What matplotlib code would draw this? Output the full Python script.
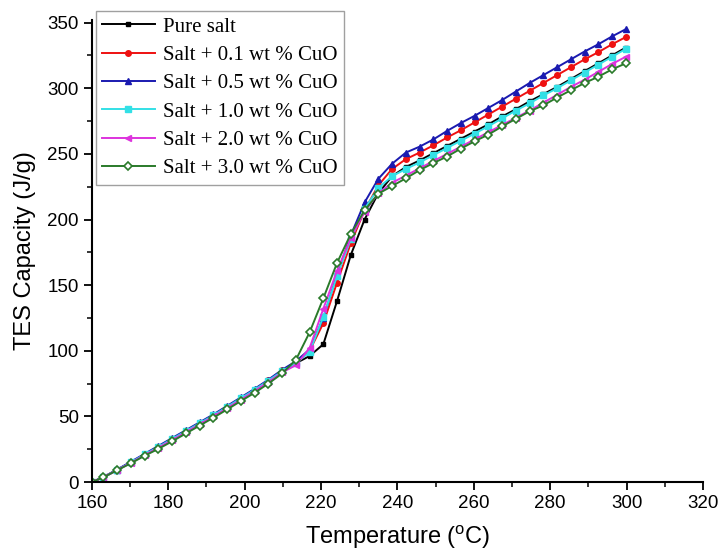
import matplotlib
matplotlib.use("Agg")
import matplotlib.pyplot as plt
from matplotlib.ticker import MultipleLocator

temperature = [160.0, 163.0, 166.6, 170.2, 173.8, 177.4, 181.0, 184.6, 188.2, 191.8,
               195.4, 199.0, 202.6, 206.2, 209.8, 213.4, 217.0, 220.6, 224.2, 227.8,
               231.4, 235.0, 238.6, 242.2, 245.8, 249.4, 253.0, 256.6, 260.2, 263.8,
               267.4, 271.0, 274.6, 278.2, 281.8, 285.4, 289.0, 292.6, 296.2, 299.8]

pure_salt = [0, 3.6, 9.2, 15, 20.8, 26.5, 32.5, 38.5, 44.5, 50.5,
             57, 63.5, 70, 77, 84.5, 90.5, 96, 105, 138, 173,
             200, 220, 233, 240, 245, 250.5, 256, 261.5, 267, 272.5,
             278.5, 284, 290, 295.5, 301, 307, 313, 319, 325, 331]
cuo_01 = [0, 3.7, 9.3, 15, 21, 27, 33, 39, 45, 51,
          57.5, 64, 70.5, 77.5, 85, 91, 100, 121, 152, 182,
          207, 226, 238.5, 246, 251, 256.5, 262.5, 268, 274, 280,
          286, 292, 298, 304, 310, 316, 322, 327.5, 333.5, 339]
cuo_05 = [0, 3.8, 9.5, 15.5, 21.5, 27.5, 33.5, 39.5, 45.5, 51.5,
          58, 64.5, 71, 78, 85.5, 92, 101, 125, 158, 188,
          213, 231, 242.5, 251, 255.5, 261, 267.5, 273.5, 279, 285,
          291, 297.5, 304, 310, 316, 322, 328, 333.5, 339.5, 345]
cuo_10 = [0, 3.6, 9.2, 15, 21, 26.8, 32.8, 38.8, 44.8, 50.8,
          57.3, 63.8, 70.3, 77.3, 84.5, 90.5, 99, 126, 157, 185,
          208, 224, 233, 238.5, 243.5, 249, 254.5, 260, 265.5, 271,
          277, 283, 288.5, 294.5, 300, 306, 312, 318, 324, 330]
cuo_20 = [0, 3.6, 9.1, 14.7, 20.5, 26.2, 32, 38, 44, 50,
          56.3, 62.8, 69.3, 76.3, 83.5, 89, 102, 132, 161, 186,
          206, 220, 228, 233.5, 239, 244.5, 250, 255.5, 261, 266.5,
          272, 277.5, 283, 289, 295, 301, 306.5, 312.5, 318.5, 324]
cuo_30 = [0, 3.6, 9, 14.3, 20, 25.3, 31, 37, 43, 49,
          55.3, 61.7, 68, 75, 82.7, 93, 114, 140, 167, 189,
          207, 219.7, 225.5, 231.4, 237.6, 243, 248, 254, 259.6, 264.7,
          270.9, 276.7, 282.4, 287, 292.9, 298.5, 304, 308.8, 314.4, 319]

labels = ["Pure salt", "Salt + 0.1 wt % CuO", "Salt + 0.5 wt % CuO",
          "Salt + 1.0 wt % CuO", "Salt + 2.0 wt % CuO", "Salt + 3.0 wt % CuO"]
series = [pure_salt, cuo_01, cuo_05, cuo_10, cuo_20, cuo_30]
colors = ["#000000", "#ee1111", "#1a1ab0", "#33e0e6", "#dd33dd", "#2a7a2a"]
markers = ["s", "o", "^", "s", "<", "D"]
msizes = [3.5, 4, 5, 5, 5, 4]

plt.rcParams['font.family'] = ['Liberation Sans', 'DejaVu Sans']
plt.rcParams['mathtext.fontset'] = 'custom'
plt.rcParams['mathtext.rm'] = 'Liberation Sans'

fig = plt.figure(figsize=(7.18, 5.56), dpi=100)
ax = fig.add_axes([0.128, 0.133, 0.851, 0.831])

for ys, lab, c, m, ms in zip(series, labels, colors, markers, msizes):
    if m == "D":
        ax.plot(temperature, ys, color=c, marker=m, markersize=ms, lw=1.4,
                markerfacecolor="white", markeredgecolor=c, markeredgewidth=1.2, label=lab)
    else:
        ax.plot(temperature, ys, color=c, marker=m, markersize=ms, lw=1.4, label=lab)

ax.set_xlim(160, 320)
ax.set_ylim(0, 352)
ax.xaxis.set_major_locator(MultipleLocator(20))
ax.xaxis.set_minor_locator(MultipleLocator(10))
ax.yaxis.set_major_locator(MultipleLocator(50))
ax.yaxis.set_minor_locator(MultipleLocator(25))
for s in ["top", "right"]:
    ax.spines[s].set_visible(False)
for s in ["left", "bottom"]:
    ax.spines[s].set_linewidth(1.5)
ax.tick_params(which="major", direction="out", length=6, width=1.3, labelsize=13.5)
ax.tick_params(which="minor", direction="out", length=3.5, width=1.1)

ax.set_xlabel("Temperature ($^{\\mathrm{o}}$C)", fontsize=17, labelpad=8)
ax.set_ylabel("TES Capacity (J/g)", fontsize=17, labelpad=8)

leg = ax.legend(loc="upper left", bbox_to_anchor=(0.007, 1.02), frameon=True,
                fancybox=False, edgecolor="#888888",
                prop={"family": "Liberation Serif", "size": 15},
                handlelength=2.5, labelspacing=0.42, borderpad=0.3,
                handletextpad=0.4, borderaxespad=0.0)
leg.get_frame().set_linewidth(1.0)

fig.savefig("out.png", dpi=100)
